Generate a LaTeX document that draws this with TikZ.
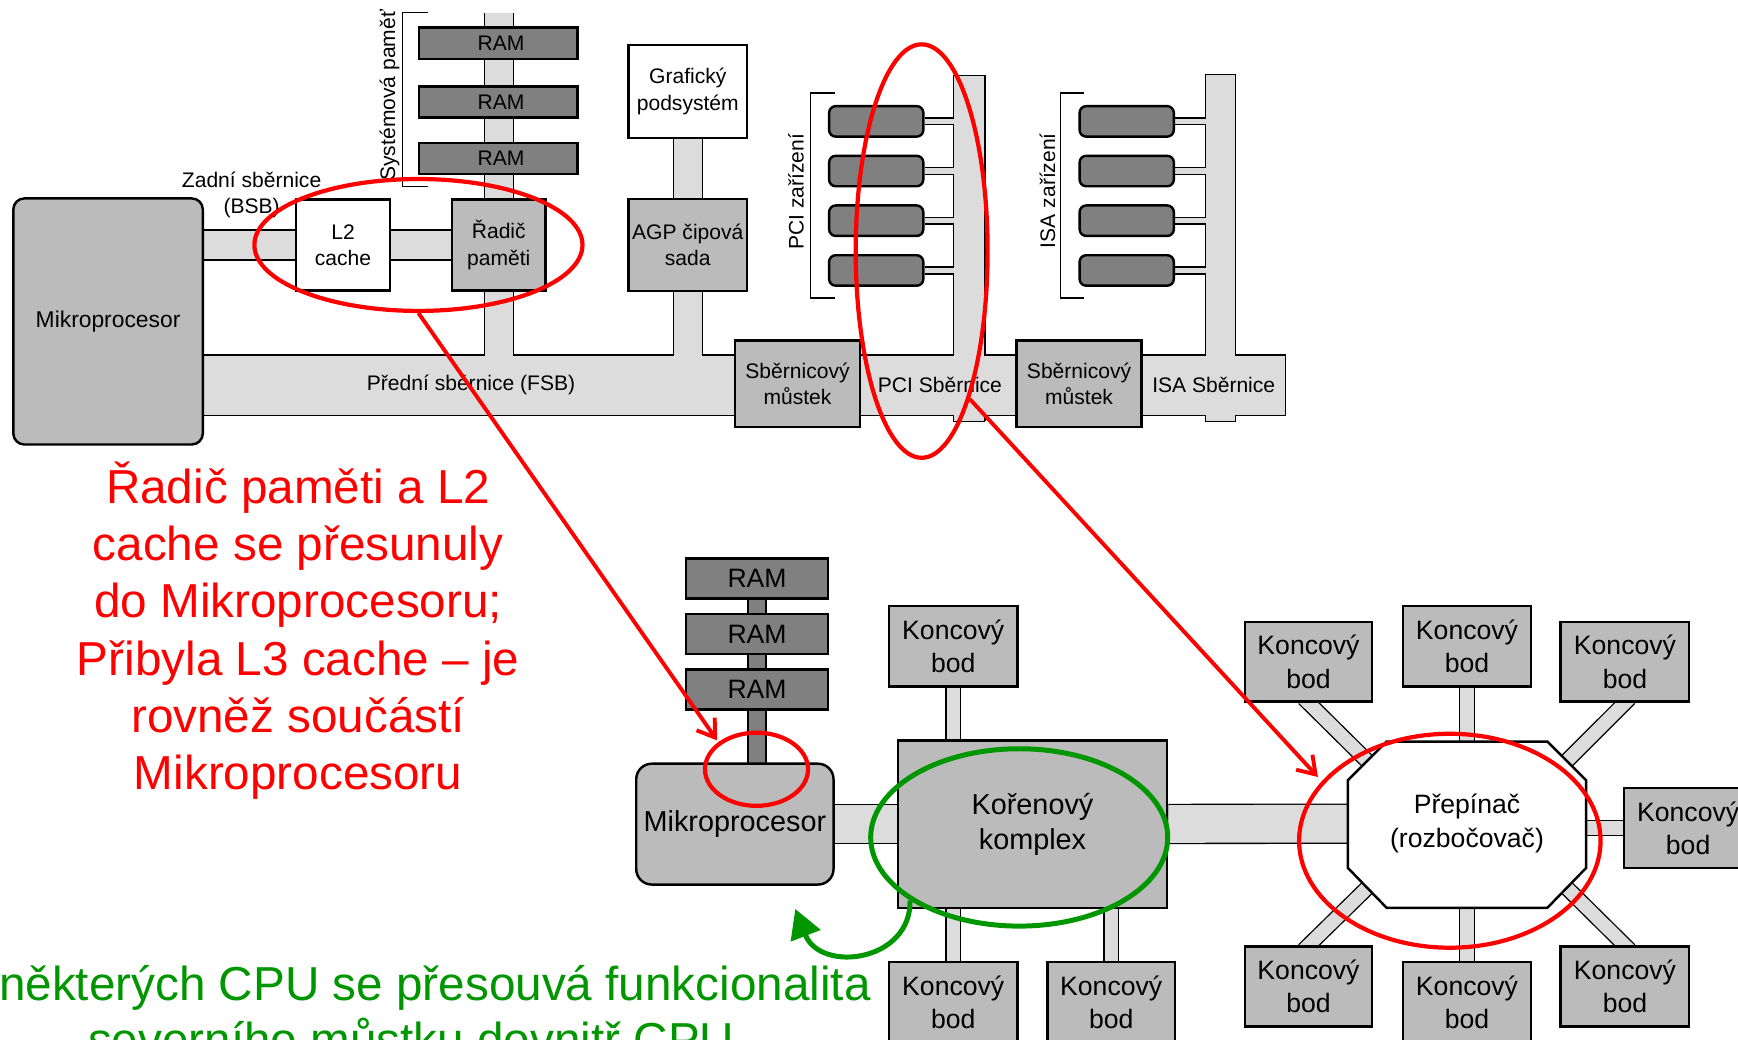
\documentclass[tikz,border=0pt]{standalone}
\usepackage{fontspec}
\setmainfont{Liberation Sans}
\usetikzlibrary{shapes.geometric,arrows.meta,backgrounds}
\definecolor{boxgray}{HTML}{BBBBBB}
\definecolor{busgray}{HTML}{DCDCDC}
\definecolor{ramgray}{HTML}{808080}
\definecolor{anngreen}{RGB}{0,150,0}
\newcommand\allbuses[1]{%
  \draw[#1=26] (cpu1.east |- l2) -- (mc);
  \draw[#1=53] (cpu1.east |- fsbR) -- (fsbR);
  \draw[#1=25] (memT) -- (mc |- fsbR);
  \draw[#1=25] (gfx) -- (agp |- fsbR);
  \draw[#1=27] (pciT) -- (pciB);
  \draw[#1=26] (isaT) -- (isaB);
  \foreach \i in {1,2,3,4}{%
    \draw[#1=5] (pci\i) -- (pci\i -| pciT);
    \draw[#1=5] (isa\i) -- (isa\i -| isaT);
  }
  \draw[#1=34] (cpu2) -- (kor);
  \draw[#1=34] (kor) -- (prep);
  \draw[#1=12] (kt) -- (kt |- kor);
  \draw[#1=12] (kb1) -- (kb1 |- kor);
  \draw[#1=12] (kb2) -- (kb2 |- kor);
  \draw[#1=12] (ptc) -- (ptc |- prep);
  \draw[#1=12] (pbc) -- (pbc |- prep);
  \draw[#1=12] (prt) -- (prt -| prep);
  \draw[#1=12, shorten <=-6pt, shorten >=-8pt] (ptl.south) -- (ul);
  \draw[#1=12, shorten <=-6pt, shorten >=-8pt] (ptr.south) -- (ur);
  \draw[#1=12, shorten <=-6pt, shorten >=-8pt] (pbl.north) -- (ll);
  \draw[#1=12, shorten <=-6pt, shorten >=-8pt] (pbr.north) -- (lr);
}
\tikzset{
  busA/.style={draw=black, line width={#1+2.4}},
  busB/.style={draw=busgray, line width={#1}},
  box/.style={draw=black, line width=2.2pt, fill=boxgray, inner sep=0pt, align=center},
  wbox/.style={box, fill=white},
  rambox/.style={box, fill=ramgray},
  devbox/.style={box, fill=ramgray, rounded corners=6pt},
  tf/.style={font=\fontsize{19}{23.5}\selectfont},
  bf/.style={font=\fontsize{24}{30}\selectfont},
  bigf/.style={font=\fontsize{26}{32}\selectfont},
  redell/.style={draw=red, line width=3.8pt, ellipse, inner sep=0pt},
  greenell/.style={draw=anngreen, line width=4.5pt, ellipse, inner sep=0pt},
  redarr/.style={draw=red, line width=3.5pt, -{Straight Barb[length=15pt,width=20pt]}},
  greenarr/.style={draw=anngreen, line width=4.5pt, -{Triangle[length=26pt,width=28pt]}},
  brk/.style={draw=black, line width=1.3pt},
  edge/.style={draw=black, line width=1.2pt},
}
\begin{document}
\begin{tikzpicture}[x=1pt,y=-1pt]
\useasboundingbox (0,0) rectangle (1568,938);
% ---------- coordinates of bus ends ----------
\coordinate (fsbR) at (1160,347.5);
\coordinate (memT) at (450,12);
\coordinate (pciT) at (874.5,68);
\coordinate (pciB) at (874.5,380);
\coordinate (isaT) at (1101,67);
\coordinate (isaB) at (1101,380);
\coordinate (ul) at (1233.5,686.5);
\coordinate (ur) at (1413.5,686.5);
\coordinate (ll) at (1233.5,801);
\coordinate (lr) at (1413.5,801);
% ---------- top diagram ----------
\node[box, font=\fontsize{20.6}{24}\selectfont, rounded corners=10pt, minimum width=171, minimum height=222] (cpu1) at (97.5,290) {Mikroprocesor};
\node[wbox, tf, minimum width=85, minimum height=82] (l2) at (309.5,221) {L2\\cache};
\node[box, tf, minimum width=84, minimum height=82] (mc) at (450,221) {Řadič\\paměti};
\node[rambox, tf, minimum width=143, minimum height=28] (r1) at (449.5,39) {\hspace{5pt}RAM};
\node[rambox, tf, minimum width=143, minimum height=28] (r2) at (449.5,92) {\hspace{5pt}RAM};
\node[rambox, tf, minimum width=143, minimum height=28] (r3) at (449.5,143) {\hspace{5pt}RAM};
\node[wbox, tf, minimum width=107, minimum height=84] (gfx) at (620.5,82.5) {Grafický\\podsystém};
\node[box, tf, minimum width=107, minimum height=83] (agp) at (620.5,221) {AGP čipová\\sada};
\node[box, tf, minimum width=113, minimum height=78] (brA) at (719.5,346) {Sběrnicový\\můstek};
\node[box, tf, minimum width=113, minimum height=78] (brB) at (973.5,346) {Sběrnicový\\můstek};
\foreach \i/\y in {1/109.5,2/154.3,3/199.1,4/244}{
  \node[devbox, minimum width=85, minimum height=27.5] (pci\i) at (790.5,\y) {};
  \node[devbox, minimum width=85, minimum height=27.5] (isa\i) at (1016.5,\y) {};
}
\node[tf, align=center] (bsbl) at (227,175.5) {Zadní sběrnice\\(BSB)};
\node[tf] (fsbl) at (425,347) {Přední sběrnice (FSB)};
\node[tf] (pcil) at (848,347) {PCI Sběrnice};
\node[tf] (isal) at (1095,347) {ISA Sběrnice};
\node[tf, rotate=90] (sysl) at (351.5,86) {Systémová paměť};
\node[tf, rotate=90] (pcizl) at (718,173) {PCI zařízení};
\node[tf, rotate=90] (isazl) at (945,172) {ISA zařízení};
\draw[brk] (386,11.5) -- (363,11.5) -- (363,168) -- (386,168);
\draw[brk] (753,84) -- (731,84) -- (731,269) -- (753,269);
\draw[brk] (978,84) -- (957,84) -- (957,269) -- (978,269);
% ---------- bottom diagram ----------
\node[rambox, bf, minimum width=128, minimum height=36] (br1) at (683,522) {RAM};
\node[rambox, bf, minimum width=128, minimum height=36] (br2) at (683,572) {RAM};
\node[rambox, bf, minimum width=128, minimum height=36] (br3) at (683,622) {RAM};
\node[box, bigf, rounded corners=14pt, minimum width=178, minimum height=109] (cpu2) at (663,743.5) {Mikroprocesor};
\node[box, bigf, minimum width=243, minimum height=151] (kor) at (931.5,743.5) {Kořenový\\komplex};
\node[box, bf, minimum width=116, minimum height=73] (kt) at (860,583) {Koncový\\bod};
\node[box, bf, minimum width=116, minimum height=73] (kb1) at (860,904.5) {Koncový\\bod};
\node[box, bf, minimum width=115, minimum height=73] (kb2) at (1002.5,904.5) {Koncový\\bod};
\draw[line width=2.2pt, fill=white] (1251,669) -- (1396,669) -- (1431,704) -- (1431,783) -- (1396,819) -- (1251,819) -- (1216,783) -- (1216,704) -- cycle;
\node[bf, align=center] (prep) at (1323.5,743) {Přepínač\\(rozbočovač)};
\node[box, bf, minimum width=115, minimum height=72] (ptl) at (1180.5,597) {Koncový\\bod};
\node[box, bf, minimum width=115, minimum height=73] (ptc) at (1323.5,583) {Koncový\\bod};
\node[box, bf, minimum width=116, minimum height=72] (ptr) at (1466,597) {Koncový\\bod};
\node[box, bf, minimum width=116, minimum height=72] (prt) at (1523,747) {Koncový\\bod};
\node[box, bf, minimum width=115, minimum height=72] (pbl) at (1180.5,890) {Koncový\\bod};
\node[box, bf, minimum width=115, minimum height=73] (pbc) at (1323.5,904.5) {Koncový\\bod};
\node[box, bf, minimum width=116, minimum height=72] (pbr) at (1466,890) {Koncový\\bod};
% ---------- buses (behind) ----------
\begin{scope}[on background layer]
  \allbuses{busA}
  \allbuses{busB}
  \draw[black, line width=17.4pt] (br1) -- (br3 |- cpu2);
  \draw[ramgray, line width=15pt] (br1) -- (br3 |- cpu2);
\end{scope}
% closed bus ends
\draw[edge] (860,68) -- (889,68);
\draw[edge] (860,380) -- (889,380);
\draw[edge] (1087,67) -- (1115,67);
\draw[edge] (1087,380) -- (1115,380);
\draw[edge] (1160,320.5) -- (1160,374.5);
% ---------- annotations ----------
\node[redell, minimum width=296, minimum height=119] (e1) at (377.5,221) {};
\node[redell, minimum width=119, minimum height=373] (e2) at (831.5,226.5) {};
\node[redell, minimum width=93, minimum height=66] (e3) at (682.5,694) {};
\node[redell, minimum width=272, minimum height=193] (e4) at (1308,758.5) {};
\node[greenell, minimum width=268, minimum height=160] (g) at (919.5,755.5) {};
\coordinate (t1) at (647,668);
\coordinate (t2) at (1189,701);
\coordinate (t3) at (717.5,820);
\draw[redarr] (e1.south) -- (t1);
\draw[redarr] (e2.-72) -- (t2);
\draw[greenarr] (g.210) .. controls (822,868) and (740,878) .. (t3);
\node[text=red, align=center, font=\fontsize{43}{51.6}\selectfont] (rt) at (269,569) {Řadič paměti a L2\\cache se přesunuly\\do Mikroprocesoru;\\Přibyla L3 cache – je\\rovněž součástí\\Mikroprocesoru};
\node[text=anngreen, anchor=base west, inner sep=0pt, font=\fontsize{43}{51.6}\selectfont] (gt1) at (-1,903) {některých CPU se přesouvá funkcionalita};
\node[text=anngreen, anchor=base, inner sep=0pt, font=\fontsize{43}{51.6}\selectfont] (gt2) at (371,953) {severního můstku dovnitř CPU};
\end{tikzpicture}
\end{document}
